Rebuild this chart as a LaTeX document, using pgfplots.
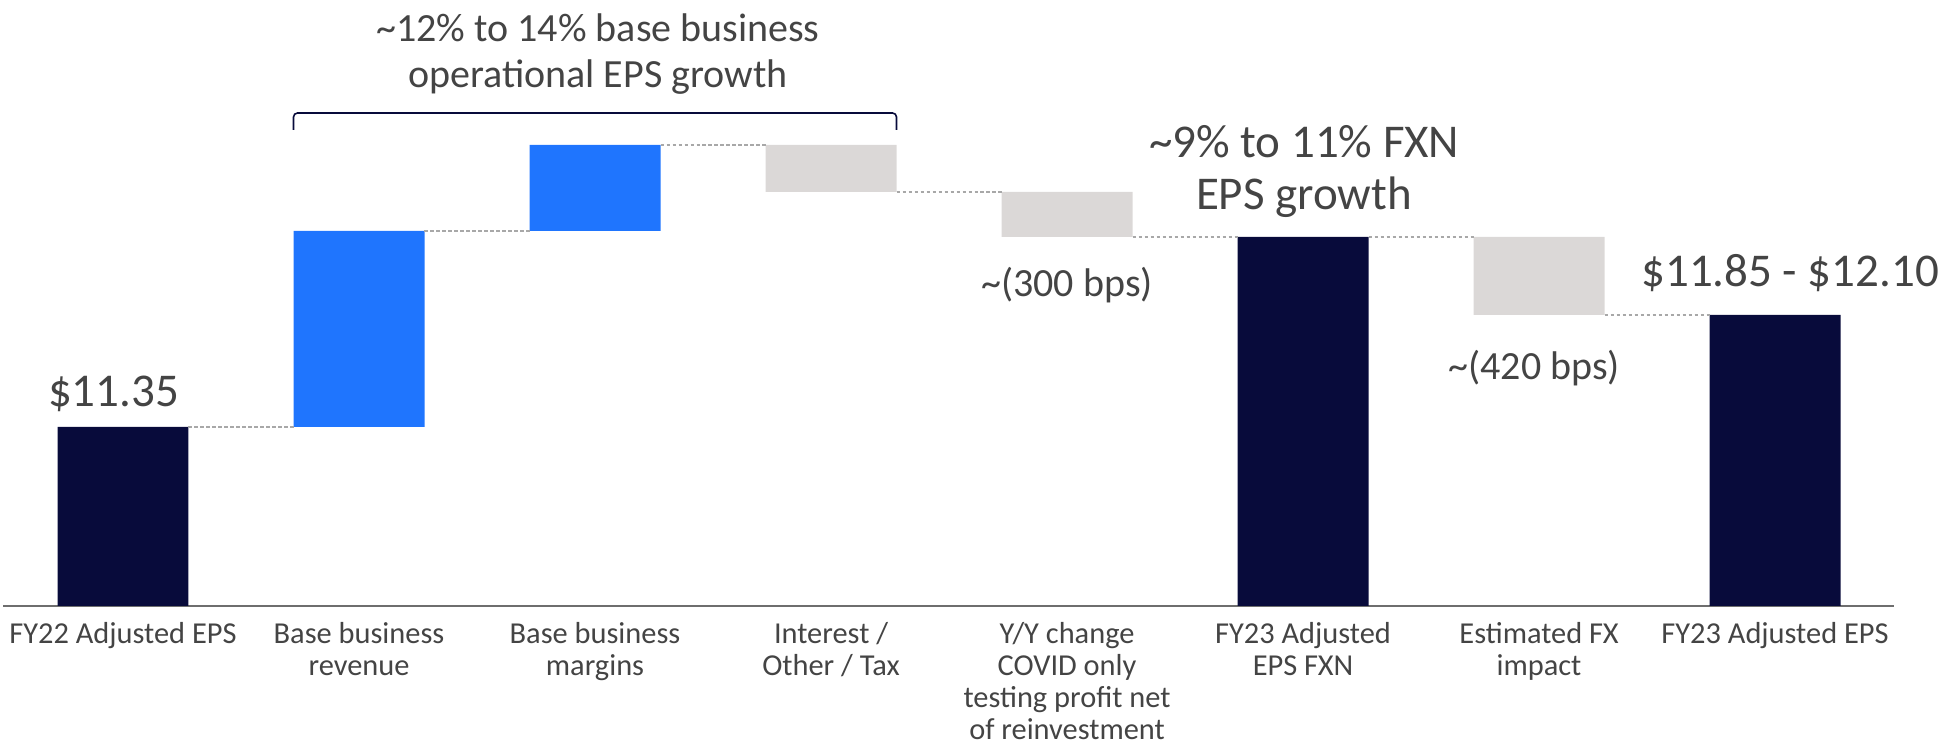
\documentclass[border=0pt]{standalone}
\usepackage{fontspec}
\setmainfont{Carlito}
\usepackage{pgfplots}
\pgfplotsset{compat=1.18}

\definecolor{navy}{HTML}{080B3B}
\definecolor{hellblau}{HTML}{1F75FE}
\definecolor{hellgrau}{HTML}{DBD8D7}
\definecolor{schrift}{HTML}{444444}
\definecolor{achse}{HTML}{6E6E6E}
\definecolor{verbinder}{HTML}{A8A8A8}

% 1 px of the reference = 0.25pt
\newcommand\lbl{\fontsize{7.6}{8}\selectfont}
\newcommand\txtM{\fontsize{10}{11.5}\selectfont}
\newcommand\txtL{\fontsize{11.75}{13}\selectfont}

\pgfplotsset{
  rahmen/.style={
    scale only axis, width=472.75pt, height=151.5pt,
    xmin=-0.508, xmax=7.504, ymin=0, ymax=606,
    enlargelimits=false, clip=false
  },
  conn/.style={verbinder, line width=0.4pt, dash pattern=on 0.9pt off 0.6pt},
}
\tikzset{anno/.style={text=schrift, anchor=base, inner sep=0pt}}

\begin{document}
\begin{tikzpicture}
  \begin{axis}[
    rahmen,
    ybar stacked, bar width=32.75pt,
    axis x line=bottom, axis y line=none,
    x axis line style={-, draw=achse, line width=0.5pt},
    xtick={0,...,7}, major tick length=0pt, ytick=\empty,
    xticklabels={
      {FY22 Adjusted EPS},
      {Base business\\revenue},
      {Base business\\margins},
      {Interest /\\Other / Tax},
      {Y/Y change\\COVID only\\testing profit net\\of reinvestment},
      {FY23 Adjusted\\EPS FXN},
      {Estimated FX\\impact},
      {FY23 Adjusted EPS}},
    xticklabel style={align=center, font=\lbl, text=schrift,
      anchor=north, inner sep=0pt, yshift=-4pt},
  ]
    % invisible base of the floating bars
    \addplot[draw=none, fill=none, forget plot] coordinates
      {(0,0) (1,179) (2,375) (3,414) (4,369) (5,0) (6,291) (7,0)};
    \addplot[draw=none, fill=navy] coordinates
      {(0,179) (1,0) (2,0) (3,0) (4,0) (5,369) (6,0) (7,291)};
    \addplot[draw=none, fill=hellblau] coordinates
      {(0,0) (1,196) (2,86) (3,0) (4,0) (5,0) (6,0) (7,0)};
    \addplot[draw=none, fill=hellgrau] coordinates
      {(0,0) (1,0) (2,0) (3,47) (4,45) (5,0) (6,78) (7,0)};
  \end{axis}

  \begin{axis}[rahmen, hide axis]
    \addplot[conn] coordinates {(0.2775,179) (0.7225,179)};
    \addplot[conn] coordinates {(1.2775,375) (1.7225,375)};
    \addplot[conn] coordinates {(2.2775,461) (2.7225,461)};
    \addplot[conn] coordinates {(3.2775,414) (3.7225,414)};
    \addplot[conn] coordinates {(4.2775,369) (4.7225,369)};
    \addplot[conn] coordinates {(5.2775,369) (5.7225,369)};
    \addplot[conn] coordinates {(6.2775,291) (6.7225,291)};
    % bracket over the base business bars
    \addplot[navy, line width=0.4pt, rounded corners=1pt] coordinates
      {(0.7225,476) (0.7225,493) (3.2775,493) (3.2775,476)};

    \node[anno, font=\txtM] at (axis cs:2.013,564) {\textasciitilde12\% to 14\% base business};
    \node[anno, font=\txtM] at (axis cs:2.013,518) {operational EPS growth};
    \node[anno, font=\txtL] at (axis cs:5.004,448) {\textasciitilde9\% to 11\% FXN};
    \node[anno, font=\txtL] at (axis cs:5.004,396) {EPS growth};
    \node[anno, font=\txtM] at (axis cs:4.0,309) {\textasciitilde(300 bps)};
    \node[anno, font=\txtM] at (axis cs:5.98,226) {\textasciitilde(420 bps)};
    \node[anno, font=\txtL] at (axis cs:-0.04,199) {\$11.35};
    \node[anno, font=\txtL] at (axis cs:7.064,319) {\$11.85 - \$12.10};

    \coordinate (bl) at (axis cs:-0.5212,-146);
    \coordinate (tr) at (axis cs:7.7161,606);
  \end{axis}
  \pgfresetboundingbox
  \path[use as bounding box] (bl) rectangle (tr);
\end{tikzpicture}
\end{document}
